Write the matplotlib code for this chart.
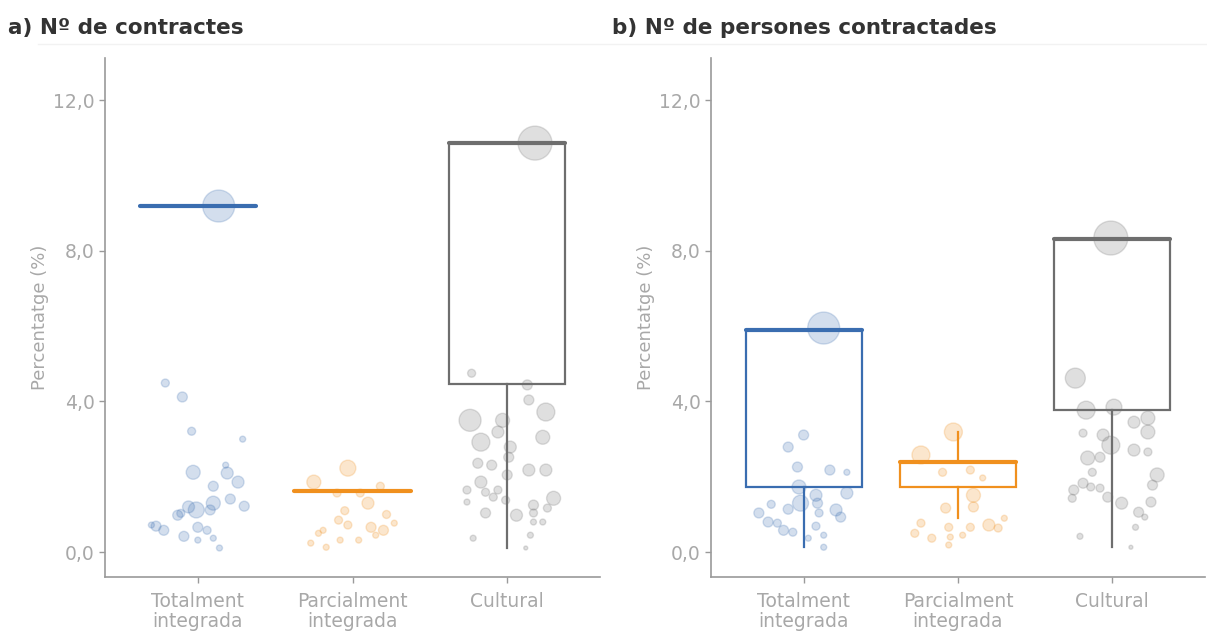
import matplotlib.pyplot as plt
from matplotlib.lines import Line2D

plt.rcParams['font.family'] = ['DejaVu Sans']

categories = ["Totalment\nintegrada", "Parcialment\nintegrada", "Cultural"]
yticks = [0, 4, 8, 12]
ytick_labels = ["0,0", "4,0", "8,0", "12,0"]
titles = ["a) Nº de contractes", "b) Nº de persones contractades"]
ylabel = "Percentatge (%)"
colors = ["#3a6db0", "#f0901e", "#6e6e6e"]

# boxes: q1, mediana, q3, bigoti inferior, bigoti superior
a_q1 = [9.19, 1.62, 4.46]
a_med = [9.19, 1.62, 10.86]
a_q3 = [9.19, 1.62, 10.86]
a_wlo = [9.19, 1.62, 0.10]
a_whi = [9.19, 1.62, 10.86]

b_q1 = [1.73, 1.73, 3.77]
b_med = [5.90, 2.39, 8.31]
b_q3 = [5.90, 2.39, 8.31]
b_wlo = [0.13, 0.90, 0.13]
b_whi = [5.90, 3.19, 8.31]

# punts (valor, jitter, pes)
a_tot_y = [9.19, 4.49, 4.12, 3.21, 3.0, 2.12, 2.31, 2.1, 1.86, 1.75, 1.3, 1.41, 1.22, 1.12, 1.2, 0.98,
           1.12, 0.69, 0.58, 0.42, 0.66, 0.58, 0.32, 0.37, 0.11, 0.72, 1.03]
a_tot_jit = [0.135, -0.21, -0.10, -0.04, 0.29, -0.03, 0.18, 0.19, 0.26, 0.10, 0.10, 0.21, 0.30, -0.01, -0.06,
             -0.13, 0.08, -0.27, -0.22, -0.09, 0.0, 0.06, 0.0, 0.10, 0.14, -0.30, -0.11]
a_tot_pes = [16, 4, 5, 4, 3, 7, 3, 6, 6, 5, 7, 5, 5, 8, 6, 5, 5, 5, 5, 5, 5, 4, 3, 3, 3, 3, 4]

a_par_y = [2.23, 1.86, 1.3, 0.85, 0.72, 0.66, 0.58, 0.58, 0.24, 0.13, 0.32, 0.32, 1.57, 1.57, 0.77,
           1.1, 0.45, 0.5, 1.0, 1.75]
a_par_jit = [-0.03, -0.25, 0.10, -0.09, -0.03, 0.12, 0.20, -0.19, -0.27, -0.17, -0.08, 0.04, -0.10, 0.05, 0.27,
             -0.05, 0.15, -0.22, 0.22, 0.18]
a_par_pes = [8, 7, 6, 4, 4, 5, 5, 3, 3, 3, 3, 3, 4, 4, 3, 4, 3, 3, 4, 4]

a_cul_y = [10.86, 4.75, 4.44, 4.04, 3.72, 3.5, 3.5, 3.19, 2.92, 3.05, 2.79, 2.52, 2.36, 2.31, 2.18, 2.18,
           2.05, 1.86, 1.65, 1.59, 1.65, 1.38, 1.46, 1.43, 1.25, 1.17, 1.33, 1.04, 0.98, 1.04, 0.8, 0.8,
           0.45, 0.37, 0.11]
a_cul_jit = [0.18, -0.23, 0.13, 0.14, 0.25, -0.24, -0.03, -0.06, -0.17, 0.23, 0.02, 0.01, -0.19, -0.10, 0.14,
             0.25, 0.0, -0.17, -0.26, -0.14, -0.06, -0.01, -0.09, 0.30, 0.17, 0.26, -0.26, -0.14, 0.06, 0.17,
             0.17, 0.23, 0.15, -0.22, 0.12]
a_cul_pes = [17, 4, 5, 5, 9, 11, 7, 6, 9, 7, 6, 5, 5, 5, 6, 6, 5, 6, 4, 4, 4, 4, 4, 7, 5, 4, 3, 5, 6, 4,
             3, 3, 3, 3, 2]

b_tot_y = [5.95, 3.11, 2.79, 2.26, 2.18, 2.12, 1.73, 1.57, 1.51, 1.3, 1.3, 1.27, 1.14, 1.12, 1.04, 1.04,
           0.93, 0.8, 0.77, 0.69, 0.58, 0.53, 0.45, 0.13, 0.37]
b_tot_jit = [0.13, 0.0, -0.10, -0.04, 0.17, 0.28, -0.03, 0.28, 0.08, -0.02, 0.09, -0.21, -0.10, 0.21, -0.29,
             0.10, 0.24, -0.23, -0.17, 0.08, -0.13, -0.07, 0.13, 0.13, 0.03]
b_tot_pes = [16, 5, 5, 5, 5, 3, 7, 6, 6, 8, 5, 4, 5, 6, 5, 4, 5, 5, 4, 4, 5, 4, 3, 3, 3]

b_par_y = [3.19, 2.58, 2.12, 2.18, 1.97, 1.51, 1.2, 1.17, 0.77, 0.66, 0.66, 0.72, 0.64, 0.5, 0.37, 0.4,
           0.19, 0.45, 0.9]
b_par_jit = [-0.03, -0.24, -0.10, 0.08, 0.16, 0.10, 0.10, -0.08, -0.24, -0.06, 0.08, 0.20, 0.26, -0.28, -0.17,
             -0.05, -0.06, 0.03, 0.30]
b_par_pes = [9, 9, 4, 4, 3, 7, 5, 5, 4, 4, 4, 6, 4, 4, 4, 3, 3, 3, 3]

b_cul_y = [8.34, 4.62, 3.77, 3.85, 3.45, 3.56, 3.19, 3.16, 3.11, 2.84, 2.71, 2.66, 2.5, 2.52, 2.12, 2.05,
           1.78, 1.83, 1.65, 1.73, 1.7, 1.43, 1.46, 1.3, 1.33, 1.06, 0.93, 0.66, 0.42, 0.13]
b_cul_jit = [-0.01, -0.24, -0.17, 0.01, 0.14, 0.23, 0.23, -0.19, -0.06, -0.01, 0.14, 0.23, -0.16, -0.08, -0.13,
             0.29, 0.26, -0.19, -0.25, -0.14, -0.08, -0.26, -0.03, 0.06, 0.25, 0.17, 0.21, 0.15, -0.21, 0.12]
b_cul_pes = [17, 10, 9, 8, 6, 7, 7, 4, 6, 9, 6, 4, 7, 5, 4, 7, 5, 5, 5, 4, 4, 4, 5, 6, 5, 5, 3, 3, 3, 2]


def make_stats(q1, med, q3, wlo, whi):
    stats = []
    for i in range(len(q1)):
        stats.append({"q1": q1[i], "med": med[i], "q3": q3[i],
                      "whislo": wlo[i], "whishi": whi[i], "fliers": []})
    return stats


def draw_panel(ax, stats, groups, title, title_x):
    for i, st in enumerate(stats):
        c = colors[i]
        ax.bxp([st], positions=[i + 1], widths=0.75, showcaps=False, showfliers=False,
               patch_artist=True,
               boxprops=dict(facecolor="white", edgecolor=c, linewidth=1.6),
               whiskerprops=dict(color=c, linewidth=1.6),
               medianprops=dict(color=c, linewidth=3.0, solid_capstyle="round"))
    for i, (ys, jit, pes) in enumerate(groups):
        c = colors[i]
        xs = [i + 1 + j for j in jit]
        sz = [(1.44 * p) ** 2 for p in pes]
        ax.scatter(xs, ys, s=sz, facecolor=c, edgecolor=c, alpha=0.22, linewidths=1.0, zorder=5)

    ax.set_xlim(0.4, 3.6)
    ax.set_ylim(-0.66, 13.12)
    ax.set_xticks([1, 2, 3])
    ax.set_xticklabels(categories, linespacing=1.05)
    ax.set_yticks(yticks)
    ax.set_yticklabels(ytick_labels)
    ax.set_ylabel(ylabel, color="#a8a8a8", fontsize=13, labelpad=3)
    for s in ["top", "right"]:
        ax.spines[s].set_visible(False)
    for s in ["left", "bottom"]:
        ax.spines[s].set_color("#9a9a9a")
        ax.spines[s].set_linewidth(1.2)
    ax.tick_params(colors="#9a9a9a", labelcolor="#a8a8a8", labelsize=13.5, length=4, width=1.0)
    ax.tick_params(axis="x", pad=7)
    ax.figure.text(title_x, 1 - 28 / 635, title, fontsize=15.5, fontweight="bold",
                   color="#333333", va="center", ha="left")


fig = plt.figure(figsize=(12.07, 6.35), dpi=100)
ax1 = fig.add_axes([105 / 1207, 1 - 577 / 635, 495 / 1207, 519 / 635])
ax2 = fig.add_axes([711 / 1207, 1 - 577 / 635, 494 / 1207, 519 / 635])

fig.add_artist(Line2D([38 / 1207, 1.0], [1 - 44 / 635, 1 - 44 / 635], color="#f2f2f2", linewidth=1.0))

draw_panel(ax1, make_stats(a_q1, a_med, a_q3, a_wlo, a_whi),
           [(a_tot_y, a_tot_jit, a_tot_pes), (a_par_y, a_par_jit, a_par_pes), (a_cul_y, a_cul_jit, a_cul_pes)],
           titles[0], 8 / 1207)
draw_panel(ax2, make_stats(b_q1, b_med, b_q3, b_wlo, b_whi),
           [(b_tot_y, b_tot_jit, b_tot_pes), (b_par_y, b_par_jit, b_par_pes), (b_cul_y, b_cul_jit, b_cul_pes)],
           titles[1], 612 / 1207)

fig.savefig("out.png", dpi=100)
